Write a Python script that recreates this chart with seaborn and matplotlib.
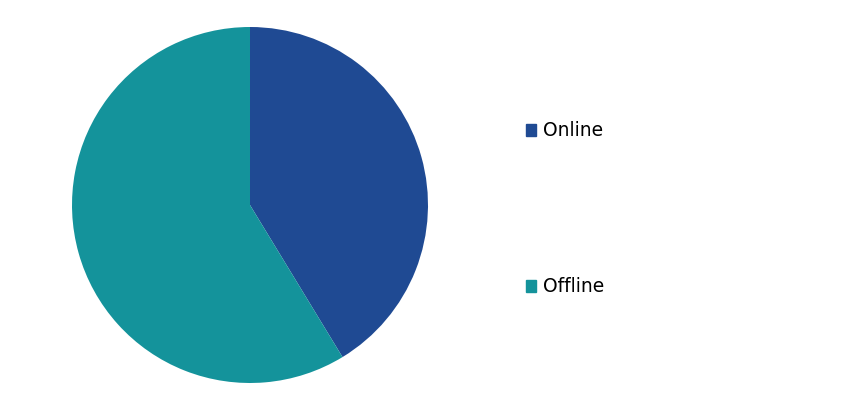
import os
import matplotlib
matplotlib.use("Agg")
import matplotlib.pyplot as plt
import matplotlib.patches as mpatches
from matplotlib.font_manager import FontProperties
import seaborn as sns

labels = ["Online", "Offline"]
shares = [41.3, 58.7]
colors = ["#1F4A93", "#14939B"]

sns.set_theme(style="white")
plt.rcParams["font.family"] = ["DejaVu Sans"]
plt.rcParams["text.color"] = "black"

fp = FontProperties(family="DejaVu Sans", size=13.5)

fig = plt.figure(figsize=(8.52, 4.09), dpi=100)
# pie centred at ~(250, 205) px, radius ~178 px
ax = fig.add_axes([(250 - 178) / 852, (409 - 205 - 178) / 409, 356 / 852, 356 / 409])
ax.pie(shares, colors=colors, startangle=90, counterclock=False,
       wedgeprops=dict(linewidth=0), radius=1)
ax.set_xlim(-1, 1)
ax.set_ylim(-1, 1)
ax.set_aspect("equal")
ax.axis("off")

handles = [mpatches.Patch(color=c, label=l) for c, l in zip(colors, labels)]
leg = fig.legend(handles=handles, loc="upper left", bbox_to_anchor=(518 / 852, 1 - 114 / 409),
                 frameon=False, prop=fp,
                 handlelength=0.58, handleheight=0.58,
                 handletextpad=0.38, labelspacing=7.3, borderaxespad=0)
for t in leg.get_texts():
    t.set_color("black")

fig.savefig("out.png", dpi=100, facecolor="white")
